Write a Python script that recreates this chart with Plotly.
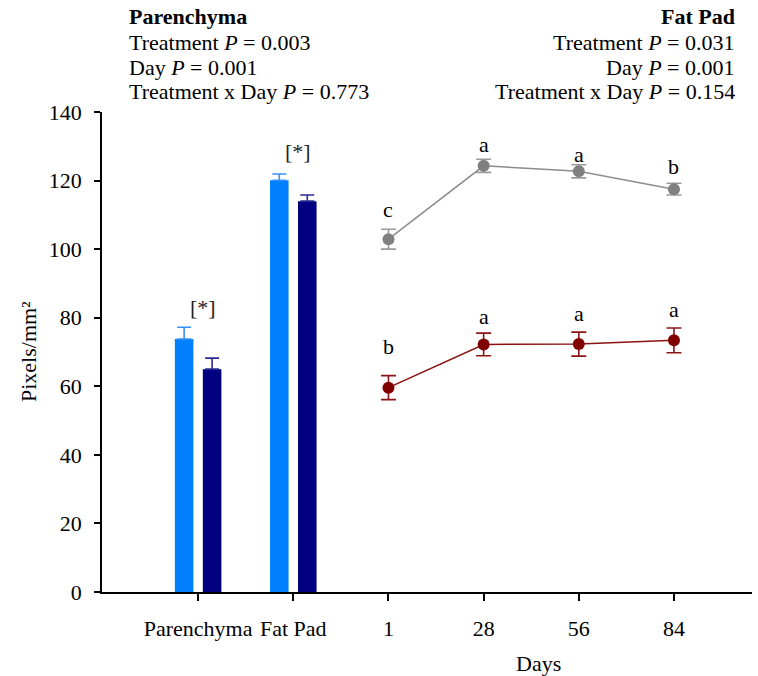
import plotly.graph_objects as go

# Tissue means (bars): two treatments per tissue
groups = ["Parenchyma", "Fat Pad"]
trt_light = [73.8, 120.1]
trt_light_se = [3.4, 1.8]
trt_dark = [65.0, 114.0]
trt_dark_se = [3.2, 1.8]
bar_marks = ["[*]", "[*]"]
bar_mark_y = [83.1, 128.4]

# Day means (lines)
days = ["1", "28", "56", "84"]
fatpad_day = [102.9, 124.3, 122.7, 117.5]
fatpad_day_se = [2.9, 1.9, 1.9, 1.7]
fatpad_letters = ["c", "a", "a", "b"]
fatpad_letter_y = [111.7, 130.4, 127.75, 124.0]

paren_day = [59.6, 72.2, 72.3, 73.4]
paren_day_se = [3.5, 3.3, 3.5, 3.6]
paren_letters = ["b", "a", "a", "a"]
paren_letter_y = [71.5, 80.3, 81.1, 82.5]

y_ticks = [0, 20, 40, 60, 80, 100, 120, 140]

FONT = "Liberation Serif"
FS = 22

tick_text = groups + days
tick_pos = list(range(len(tick_text)))
grp_pos = tick_pos[:len(groups)]
day_pos = tick_pos[len(groups):]
off = 0.147
bw = 0.195

fig = go.Figure()

fig.add_trace(go.Bar(
    x=[p - off for p in grp_pos], y=trt_light, width=bw,
    marker=dict(color="#0080FF", line=dict(width=0)),
    error_y=dict(type="data", array=trt_light_se, arrayminus=[0] * len(groups),
                 symmetric=False, color="#3392FF", thickness=1.6, width=7),
))
fig.add_trace(go.Bar(
    x=[p + off for p in grp_pos], y=trt_dark, width=bw,
    marker=dict(color="#000080", line=dict(width=0)),
    error_y=dict(type="data", array=trt_dark_se, arrayminus=[0] * len(groups),
                 symmetric=False, color="#2A2A95", thickness=1.6, width=7),
))

fig.add_trace(go.Scatter(
    x=day_pos, y=fatpad_day, mode="lines+markers",
    line=dict(color="#8C8C8C", width=1.5),
    marker=dict(color="#808080", size=12),
    error_y=dict(type="data", array=fatpad_day_se, color="#9A9A9A",
                 thickness=1.6, width=7.5),
))
fig.add_trace(go.Scatter(
    x=day_pos, y=paren_day, mode="lines+markers",
    line=dict(color="#8B1010", width=1.5),
    marker=dict(color="#800000", size=12),
    error_y=dict(type="data", array=paren_day_se, color="#8B1515",
                 thickness=1.6, width=7.5),
))

ann = []
for p, t, yv in zip(grp_pos, bar_marks, bar_mark_y):
    ann.append(dict(x=p + 0.05, y=yv, text=t, xref="x", yref="y",
                    xanchor="center", showarrow=False,
                    font=dict(family=FONT, size=FS, color="#222")))
for p, t, yv in zip(day_pos, fatpad_letters, fatpad_letter_y):
    ann.append(dict(x=p, y=yv, text=t, xref="x", yref="y", xanchor="center",
                    showarrow=False, font=dict(family=FONT, size=FS, color="black")))
for p, t, yv in zip(day_pos, paren_letters, paren_letter_y):
    ann.append(dict(x=p, y=yv, text=t, xref="x", yref="y", xanchor="center",
                    showarrow=False, font=dict(family=FONT, size=FS, color="black")))


def py(px):
    # pixel row -> paper coordinate (plot spans rows 112..592)
    return (592 - px) / 480


left_block = ["<b>Parenchyma</b>", "Treatment <i>P</i> = 0.003",
              "Day <i>P</i> = 0.001", "Treatment x Day <i>P</i> = 0.773"]
right_block = ["<b>Fat Pad</b>", "Treatment <i>P</i> = 0.031",
               "Day <i>P</i> = 0.001", "Treatment x Day <i>P</i> = 0.154"]
rows = [17, 42, 67, 92]
for t, r in zip(left_block, rows):
    ann.append(dict(x=(127 - 102) / 650, y=py(r), xref="paper", yref="paper",
                    text=t, showarrow=False, xanchor="left", yanchor="middle",
                    font=dict(family=FONT, size=FS, color="black")))
for t, r in zip(right_block, rows):
    ann.append(dict(x=(737 - 102) / 650, y=py(r), xref="paper", yref="paper",
                    text=t, showarrow=False, xanchor="right", yanchor="middle",
                    font=dict(family=FONT, size=FS, color="black")))

ann.append(dict(x=(538 - 102) / 650, y=py(663), xref="paper", yref="paper",
                text="Days", showarrow=False, xanchor="center", yanchor="middle",
                font=dict(family=FONT, size=FS, color="black")))
ann.append(dict(x=(28 - 102) / 650, y=py(352), xref="paper", yref="paper",
                text="Pixels/mm²", showarrow=False, textangle=-90,
                xanchor="center", yanchor="middle",
                font=dict(family=FONT, size=FS, color="black")))

fig.update_layout(
    width=758, height=676,
    margin=dict(l=102, r=6, t=112, b=84),
    plot_bgcolor="white", paper_bgcolor="white",
    showlegend=False,
    barmode="overlay",
    font=dict(family=FONT, size=FS, color="black"),
    annotations=ann,
    xaxis=dict(range=[-1.01, 5.82], tickvals=tick_pos, ticktext=tick_text,
               showline=True, linecolor="black", linewidth=1.5,
               ticks="outside", ticklen=7, tickwidth=1.5, tickcolor="black",
               showgrid=False, zeroline=False, ticklabelstandoff=9),
    yaxis=dict(range=[0, 140], tickvals=y_ticks,
               showline=True, linecolor="black", linewidth=1.5,
               ticks="outside", ticklen=6, tickwidth=1.5, tickcolor="black",
               showgrid=False, zeroline=False, ticklabelstandoff=8),
)

fig.write_html("out.html")
